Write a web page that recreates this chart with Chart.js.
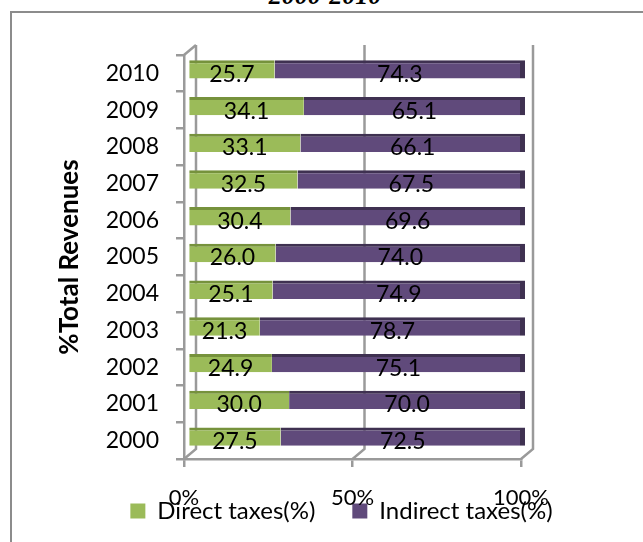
<!DOCTYPE html>
<html><head><meta charset="utf-8">
<script src="https://cdn.jsdelivr.net/npm/chart.js@4.4.1/dist/chart.umd.min.js"></script>
<style>
html,body{margin:0;padding:0;background:#fff;width:643px;height:542px;overflow:hidden;position:relative}
#frame{position:absolute;left:10px;top:11px;width:640px;height:540px;border-left:2px solid #8c8c8c;border-top:2px solid #8c8c8c;}
#title{position:absolute;left:0;width:650px;top:-17px;text-align:center;font:italic bold 26px "Liberation Serif";line-height:26px;color:#000}
#wrap{position:absolute;left:0;top:0;width:643px;height:542px}
</style></head><body>
<div id="frame"></div>
<div id="title">2000-2010</div>
<div id="wrap"><canvas id="c" width="643" height="542"></canvas></div>
<script>
// ---- data ----
const years = ['2000','2001','2002','2003','2004','2005','2006','2007','2008','2009','2010'];
const directTaxes   = [27.5, 30.0, 24.9, 21.3, 25.1, 26.0, 30.4, 32.5, 33.1, 34.1, 25.7];
const indirectTaxes = [72.5, 70.0, 75.1, 78.7, 74.9, 74.0, 69.6, 67.5, 66.1, 65.1, 74.3];
const seriesNames = ['Direct taxes(%)', 'Indirect taxes(%)'];
const xTickValues = [0, 50, 100];
const axisTitle = '%Total Revenues';

// 100% stacked: share of each year's total
const totals = years.map((_, i) => directTaxes[i] + indirectTaxes[i]);
const directShare = directTaxes.map((v, i) => v / totals[i] * 100);
const indirectShare = indirectTaxes.map((v, i) => v / totals[i] * 100);
const rawSeries = [directTaxes, indirectTaxes];

// ---- style ----
const GRID = '#9a9a9a';
const DEPTH_X = 12, DEPTH_Y = 10;   // back wall offset
const BAR_DX = 4, BAR_DY = -4;      // bars sit at mid depth
const FONT = 'Lato';

const wallPlugin = {
  id: 'wall3d',
  beforeDatasetsDraw(chart) {
    const {ctx, chartArea: a, scales: {x}} = chart;
    ctx.save();
    ctx.strokeStyle = GRID;
    ctx.lineWidth = 2.5;
    xTickValues.forEach(v => {
      const px = x.getPixelForValue(v);
      ctx.beginPath();
      ctx.moveTo(px + DEPTH_X, a.top - DEPTH_Y);
      ctx.lineTo(px + DEPTH_X, a.bottom - DEPTH_Y);
      ctx.lineTo(px, a.bottom);
      ctx.stroke();
    });
    const p0 = x.getPixelForValue(xTickValues[0]);
    ctx.beginPath();
    ctx.moveTo(p0, a.top);
    ctx.lineTo(p0 + DEPTH_X, a.top - DEPTH_Y);
    ctx.stroke();
    ctx.restore();
    ctx.save();
    ctx.translate(BAR_DX, BAR_DY);
  },
  afterDatasetsDraw(chart) {
    const {ctx} = chart;
    ctx.restore();
    ctx.save();
    ctx.fillStyle = '#000';
    ctx.font = '23px ' + FONT;
    ctx.textAlign = 'center';
    ctx.textBaseline = 'middle';
    chart.data.datasets.forEach((ds, di) => {
      chart.getDatasetMeta(di).data.forEach((el, i) => {
        const cx = (el.x + el.base) / 2 + BAR_DX;
        ctx.fillText(rawSeries[di][i].toFixed(1), cx, el.y + 1);
      });
    });
    ctx.restore();
  }
};

function draw() {
  new Chart(document.getElementById('c'), {
    type: 'bar',
    data: {
      labels: years,
      datasets: [
        {
          label: seriesNames[0], data: directShare, xAxisID: 'x', yAxisID: 'y',
          backgroundColor: '#9bbb59', borderColor: '#76923c',
          borderWidth: {top: 3, right: 0, bottom: 0, left: 0}, borderSkipped: false,
          barPercentage: 1, categoryPercentage: 0.5
        },
        {
          label: seriesNames[1], data: indirectShare, xAxisID: 'x', yAxisID: 'y',
          backgroundColor: '#604a7b', borderColor: '#3f3151',
          borderWidth: {top: 3, right: 5, bottom: 0, left: 0}, borderSkipped: false,
          barPercentage: 1, categoryPercentage: 0.5
        }
      ]
    },
    options: {
      indexAxis: 'y',
      responsive: false,
      animation: false,
      events: [],
      layout: {padding: {top: 55, right: 0, bottom: 9, left: 40}},
      scales: {
        x: {
          stacked: true, min: 0, max: 100, position: 'bottom',
          afterBuildTicks(s) { s.ticks = xTickValues.map(v => ({value: v})); },
          afterFit(s) { s.height = 3; },
          grid: {display: true, drawOnChartArea: false, drawTicks: true, tickLength: 8, color: GRID, lineWidth: 2.5},
          border: {display: true, color: GRID, width: 2.5},
          ticks: {color: '#000', font: {family: FONT, size: 22}, mirror: true, padding: -52, callback: v => v + '%'}
        },
        y: {
          stacked: true, reverse: true, position: 'left',
          afterFit(s) { s.width = 144; },
          grid: {display: true, drawOnChartArea: false, drawTicks: true, tickLength: 8, color: GRID, lineWidth: 2.5},
          border: {display: true, color: GRID, width: 2.5},
          ticks: {color: '#000', font: {family: FONT, size: 23}, padding: 17},
          title: {display: true, text: axisTitle, color: '#000', padding: {top: 14, bottom: 0},
                  font: {family: FONT, size: 26, weight: 'bold'}}
        },
        spacer: {
          type: 'category', position: 'right', display: true,
          afterFit(s) { s.width = 122; },
          grid: {display: false}, border: {display: false}, ticks: {display: false}
        }
      },
      plugins: {
        tooltip: {enabled: false},
        legend: {
          position: 'bottom', align: 'center',
          labels: {
            boxWidth: 15, boxHeight: 15, padding: 37, color: '#000',
            font: {family: FONT, size: 24},
            generateLabels(chart) {
              const items = Chart.defaults.plugins.legend.labels.generateLabels(chart);
              items.forEach(it => { it.strokeStyle = it.fillStyle; it.lineWidth = 0; });
              return items;
            }
          }
        }
      }
    },
    plugins: [wallPlugin]
  });
}
Promise.all([document.fonts.load('23px Lato'), document.fonts.load('bold 26px Lato')]).then(draw, draw);
</script></body></html>
